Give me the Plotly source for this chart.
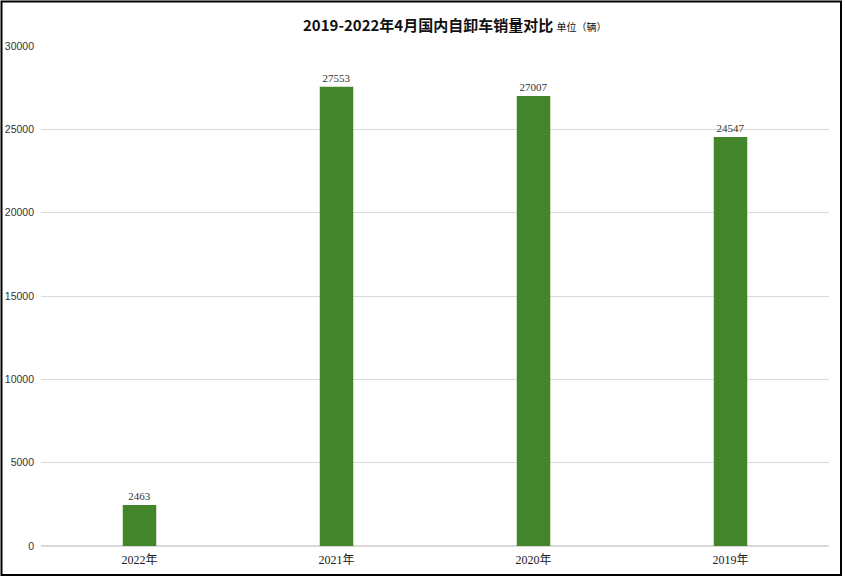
import plotly.graph_objects as go

categories = ["2022年", "2021年", "2020年", "2019年"]
values = [2463, 27553, 27007, 24547]
y_ticks = [0, 5000, 10000, 15000, 20000, 25000, 30000]
y_tick_labels = ["0", "5000", "10000", "15000", "20000", "25000", "30000"]

W, H = 845, 577
L, R, T, B = 41, 16, 46, 31
pw, ph = W - L - R, H - T - B

def px_x(x):
    return (x - L) / pw

def px_y(y):
    return (H - B - y) / ph

fig = go.Figure()
fig.add_trace(go.Bar(
    x=categories, y=values,
    marker=dict(color="#43852B", line=dict(width=0)),
    text=[str(v) for v in values], textposition="outside",
    textfont=dict(family="Liberation Serif, Noto Serif CJK SC, serif", size=11, color="#333333"),
    cliponaxis=False,
))

fig.update_layout(
    width=W, height=H,
    margin=dict(l=L, r=R, t=T, b=B, autoexpand=False),
    paper_bgcolor="white", plot_bgcolor="white",
    bargap=0.83,
    showlegend=False,
    font=dict(family="Liberation Serif, Noto Sans CJK SC, serif", size=11, color="#222222"),
    xaxis=dict(showgrid=False, showline=False, ticks="", automargin=False, ticklabelstandoff=5,
               tickfont=dict(size=12, color="#222222", family="Liberation Serif, Noto Sans CJK SC, serif")),
    yaxis=dict(range=[0, 30000], tickvals=y_ticks, ticktext=y_tick_labels, showgrid=True, gridcolor="#D9D9D9", gridwidth=1,
               zeroline=True, zerolinecolor="#D9D9D9", showline=False, ticks="", automargin=False,
               tickfont=dict(size=10.5, family="Liberation Sans, Arial, sans-serif", color="#333333"),
               ticklabelstandoff=6),
)

fig.add_annotation(
    xref="paper", yref="paper", x=px_x(455), y=px_y(25),
    text="<b>2019-2022年4月国内自卸车销量对比</b> <span style='font-size:10px'>单位（辆）</span>",
    showarrow=False, xanchor="center", yanchor="middle",
    font=dict(family="Noto Sans CJK SC, sans-serif", size=15, color="#111111"),
)

fig.add_shape(type="rect", xref="paper", yref="paper",
              x0=px_x(1.5), x1=px_x(841), y0=px_y(575), y1=px_y(1.5),
              line=dict(color="black", width=2), fillcolor="rgba(0,0,0,0)", layer="above")

fig.write_html("out.html", config={"displayModeBar": False},
               post_script="document.body.style.margin='0';document.body.style.overflow='hidden';")
